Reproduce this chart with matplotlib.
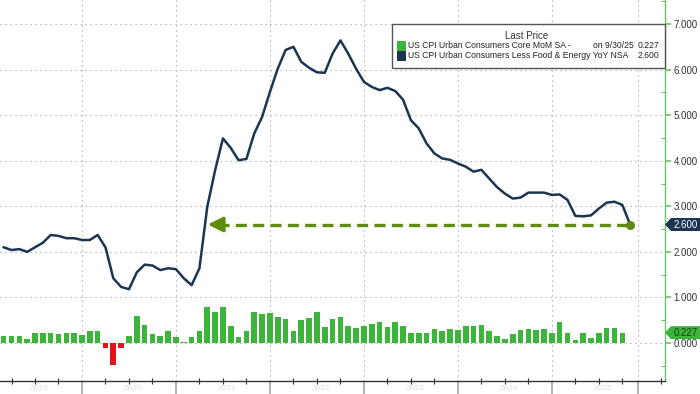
import matplotlib
matplotlib.use("Agg")
import matplotlib.pyplot as plt
import numpy as np
from matplotlib.patches import Rectangle, Polygon
from matplotlib.transforms import blended_transform_factory

plt.rcParams['font.family'] = ['Liberation Sans', 'DejaVu Sans']

# ---------------- data ----------------
# month index: months since 1 Jan 2019, measured at month end (Feb 2019 -> 2)
yoy_start = 2   # Feb 2019
yoy_values = [
    2.10, 2.04, 2.06, 2.00, 2.10, 2.20, 2.37, 2.35, 2.30, 2.30, 2.26,          # 2019 Feb-Dec
    2.26, 2.37, 2.10, 1.42, 1.23, 1.18, 1.55, 1.72, 1.70, 1.60, 1.64, 1.62,    # 2020
    1.42, 1.27, 1.64, 2.99, 3.79, 4.49, 4.28, 4.01, 4.04, 4.60, 4.96, 5.51,    # 2021
    6.02, 6.43, 6.50, 6.17, 6.04, 5.94, 5.93, 6.35, 6.64, 6.35, 6.02, 5.73,    # 2022
    5.62, 5.55, 5.60, 5.53, 5.34, 4.89, 4.71, 4.38, 4.16, 4.05, 4.02, 3.94,    # 2023
    3.87, 3.76, 3.80, 3.61, 3.42, 3.28, 3.17, 3.19, 3.30, 3.30, 3.30, 3.25,    # 2024
    3.26, 3.14, 2.79, 2.78, 2.80, 2.95, 3.08, 3.10, 3.03, 2.60,                # 2025
]
mom_start = 2   # Feb 2019
mom_values = [
    0.16, 0.15, 0.16, 0.08, 0.21, 0.21, 0.23, 0.20, 0.23, 0.23, 0.18,          # 2019 Feb-Dec
    0.27, 0.26, -0.10, -0.48, -0.10, 0.16, 0.59, 0.39, 0.20, 0.15, 0.26, 0.13, # 2020
    0.03, 0.13, 0.26, 0.80, 0.68, 0.78, 0.37, 0.13, 0.26, 0.69, 0.64, 0.65,    # 2021
    0.56, 0.52, 0.27, 0.50, 0.54, 0.68, 0.36, 0.52, 0.58, 0.38, 0.33, 0.38,    # 2022
    0.42, 0.47, 0.35, 0.45, 0.38, 0.23, 0.23, 0.23, 0.31, 0.27, 0.31, 0.29,    # 2023
    0.38, 0.38, 0.39, 0.27, 0.15, 0.09, 0.20, 0.28, 0.31, 0.28, 0.30, 0.23,    # 2024
    0.45, 0.23, 0.07, 0.23, 0.12, 0.23, 0.32, 0.34, 0.227,                     # 2025
]
year_labels = ["2019", "2020", "2021", "2022", "2023", "2024", "2025"]
major_ticks = [12, 24, 36, 48, 60, 72, 83]
yticks = [0, 1, 2, 3, 4, 5, 6, 7]
legend_mom = "US CPI Urban Consumers Core MoM SA -"
legend_mom_date = "on 9/30/25"
legend_yoy = "US CPI Urban Consumers Less Food & Energy YoY NSA"
last_mom = mom_values[-1]
last_yoy = yoy_values[-1]

# ---------------- colours ----------------
NAVY = '#1c3553'
GREEN = '#3db53a'
RED = '#e3121b'
OLIVE = '#5e8c0f'
AXGREEN = '#6cc26a'

W, H = 700, 394
fig = plt.figure(figsize=(W / 100, H / 100), dpi=100)
ax = fig.add_axes([0, 13 / H, 665 / W, 381 / H])
ax.set_xlim(1.53, 86.45)
ax.set_ylim(-0.834, 7.527)

x_yoy = np.arange(len(yoy_values)) + yoy_start
x_mom = np.arange(len(mom_values)) + mom_start
mom = np.array(mom_values)

# grid
for v in yticks:
    ax.axhline(v, color='#9a9a9a', lw=0.8, ls=(0, (1, 3.5)), zorder=0)
for m in major_ticks:
    ax.axvline(m, color='#9a9a9a', lw=0.8, ls=(0, (1, 3.5)), zorder=0)

# bars
colors = [GREEN if v >= 0 else RED for v in mom]
ax.bar(x_mom, mom, width=0.72, color=colors, zorder=2, linewidth=0)

# line
ax.plot(x_yoy, yoy_values, color=NAVY, lw=1.8, zorder=3, solid_joinstyle='round')

# dashed arrow back to where the line first crossed the latest value
yarr = np.array(yoy_values)
idx = np.where((yarr[:-1] < last_yoy) & (yarr[1:] >= last_yoy))[0][-1]
cross = x_yoy[idx] + (last_yoy - yarr[idx]) / (yarr[idx + 1] - yarr[idx])
tip = cross + 0.35
ax.plot([tip + 1.3, x_yoy[-1]], [last_yoy, last_yoy], color=OLIVE, lw=2.4,
        ls=(0, (3.3, 1.9)), zorder=4, solid_capstyle='butt', dash_capstyle='butt')
ax.annotate('', xy=(tip, last_yoy), xytext=(tip + 1.6, last_yoy),
            arrowprops=dict(arrowstyle='-|>,head_length=0.9,head_width=0.45',
                            color=OLIVE, lw=2.4, shrinkA=0, shrinkB=0), zorder=4)
ax.plot([x_yoy[-1]], [last_yoy], 'o', color=OLIVE, ms=5.5, zorder=5)

# spines / ticks
for s in ['top', 'left']:
    ax.spines[s].set_visible(False)
ax.spines['right'].set_color(AXGREEN)
ax.spines['right'].set_linewidth(1.0)
ax.spines['bottom'].set_color('#333333')
ax.spines['bottom'].set_linewidth(1.0)

ax.yaxis.tick_right()
ax.set_yticks(yticks)
ax.set_yticklabels([f"{v:.3f}" for v in yticks], fontsize=7, color='#333333')
ax.set_yticks(np.arange(-0.5, 7.51, 1.0), minor=True)
ax.tick_params(axis='y', which='major', direction='out', length=4.5, width=1.2,
               color=AXGREEN, pad=1.5)
ax.tick_params(axis='y', which='minor', direction='in', length=3, width=0.8,
               color=AXGREEN)

ax.set_xticks(major_ticks)
ax.set_xticklabels([])
minor = [m for m in range(3, 86, 3) if m % 12 != 0 and m < 83] + [86]
ax.set_xticks(minor, minor=True)
ax.tick_params(axis='x', which='major', direction='out', length=10, width=1.5,
               color='#b5b5b5')
ax.tick_params(axis='x', which='minor', direction='inout', length=4, width=0.8,
               color='#333333')

# faint year labels
tb = blended_transform_factory(ax.transData, ax.transAxes)
for i, lab in enumerate(year_labels):
    ax.text(i * 12 + 6.5, -4 / 381, lab, transform=tb, ha='center', va='top',
            fontsize=6, color='#e0e0e0', clip_on=False)

# right value tags
tr = blended_transform_factory(fig.transFigure, ax.transData)
hh = 6.5 / 45.57
for val, fc, tc in [(last_yoy, NAVY, 'white'), (last_mom, GREEN, '#143d14')]:
    poly = Polygon([(665 / W, val), (671 / W, val + hh), (1.0, val + hh),
                    (1.0, val - hh), (671 / W, val - hh)], closed=True,
                   facecolor=fc, edgecolor='none', transform=tr, clip_on=False,
                   zorder=6)
    ax.add_patch(poly)
    ax.text(685.5 / W, val, f"{val:.3f}", transform=tr, ha='center', va='center',
            fontsize=7, color=tc, zorder=7, clip_on=False)

# legend box (pixel coords from top-left)
def fx(px):
    return px / W

def fy(py):
    return 1 - py / H

fig.patches.append(Rectangle((fx(392), fy(68)), fx(665) - fx(392), fy(24) - fy(68),
                             transform=fig.transFigure, facecolor='white',
                             edgecolor='#555555', lw=1.0, zorder=10))
fig.text(fx(527), fy(36), "Last Price", ha='center', va='center', fontsize=7,
         color='#333333', zorder=11)
for yrow, col, label, val, date in [(46, GREEN, legend_mom, last_mom, legend_mom_date),
                                    (56, NAVY, legend_yoy, last_yoy, None)]:
    fig.patches.append(Rectangle((fx(397), fy(yrow + 4.5)), fx(9), 9 / H,
                                 transform=fig.transFigure, facecolor=col,
                                 edgecolor='none', zorder=11))
    fig.text(fx(408), fy(yrow), label, ha='left', va='center', fontsize=6.2,
             color='#222222', zorder=11)
    if date:
        fig.text(fx(593), fy(yrow), date, ha='left', va='center', fontsize=6.2,
                 color='#222222', zorder=11)
    fig.text(fx(659), fy(yrow), f"{val:.3f}", ha='right', va='center',
             fontsize=6.2, color='#222222', zorder=11)

fig.savefig("out.png", dpi=100)
